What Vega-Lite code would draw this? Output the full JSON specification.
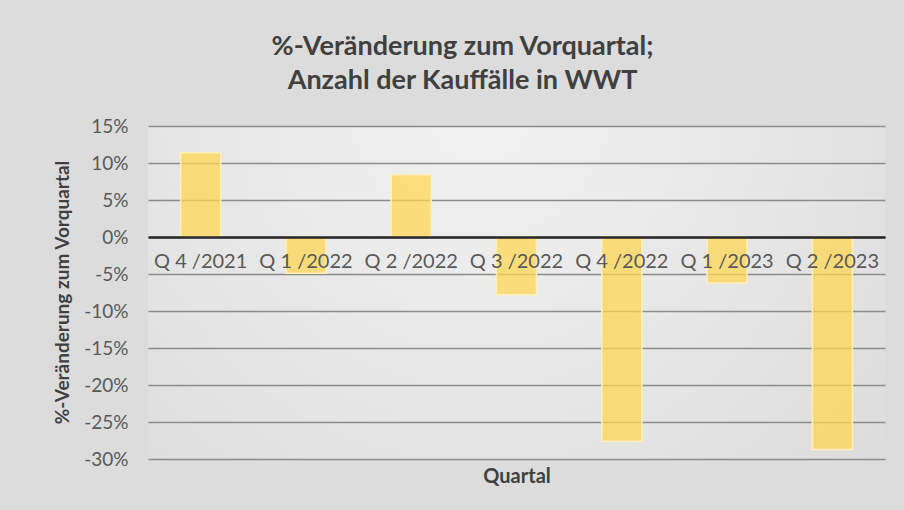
{
  "$schema": "https://vega.github.io/schema/vega-lite/v6.json",
  "width": 737,
  "height": 333,
  "autosize": {"type": "none"},
  "padding": {"left": 148, "top": 126, "right": 19, "bottom": 51},
  "background": "#dcdcdc",
  "title": {
    "text": ["%-Veränderung zum Vorquartal;", "Anzahl der Kauffälle in WWT"],
    "font": "Lato",
    "fontSize": 27,
    "fontWeight": "bold",
    "color": "#404040",
    "lineHeight": 34,
    "anchor": "middle",
    "dx": -54,
    "offset": 22
  },
  "config": {
    "view": {
      "stroke": null,
      "fill": {
        "gradient": "radial",
        "x1": 0.45, "y1": 0.25, "r1": 0,
        "x2": 0.45, "y2": 0.25, "r2": 0.95,
        "stops": [
          {"offset": 0, "color": "#f2f2f2"},
          {"offset": 1, "color": "#d6d6d6"}
        ]
      }
    }
  },
  "data": {
    "values": [
      {"quartal": "Q 4 /2021", "veraenderung": 11.4},
      {"quartal": "Q 1 /2022", "veraenderung": -4.9},
      {"quartal": "Q 2 /2022", "veraenderung": 8.4},
      {"quartal": "Q 3 /2022", "veraenderung": -7.8},
      {"quartal": "Q 4 /2022", "veraenderung": -27.6},
      {"quartal": "Q 1 /2023", "veraenderung": -6.2},
      {"quartal": "Q 2 /2023", "veraenderung": -28.7}
    ]
  },
  "mark": {
    "type": "bar",
    "fill": "#ffd650",
    "fillOpacity": 0.73,
    "stroke": "#fff0b8",
    "strokeWidth": 1.5
  },
  "encoding": {
    "x": {
      "field": "quartal",
      "type": "nominal",
      "sort": null,
      "scale": {"paddingInner": 0.62, "paddingOuter": 0.31},
      "axis": {
        "title": "Quartal",
        "zindex": 1,
        "offset": -222,
        "labelAngle": 0,
        "labelFont": "Lato",
        "labelFontSize": 20,
        "labelColor": "#595959",
        "labelPadding": 14,
        "ticks": false,
        "tickSize": 0,
        "domainColor": "#262626",
        "domainWidth": 2.5,
        "titleFont": "Lato",
        "titleFontSize": 20,
        "titleFontWeight": "bold",
        "titleColor": "#404040",
        "titleBaseline": "middle",
        "titleY": 239
      }
    },
    "y": {
      "field": "veraenderung",
      "type": "quantitative",
      "scale": {"domain": [-30, 15], "nice": false, "zero": false},
      "axis": {
        "title": "%-Veränderung zum Vorquartal",
        "values": [-30, -25, -20, -15, -10, -5, 0, 5, 10, 15],
        "labelExpr": "datum.value + '%'",
        "labelFont": "Lato",
        "labelFontSize": 19,
        "labelColor": "#595959",
        "labelPadding": 20,
        "ticks": false,
        "domain": false,
        "grid": true,
        "gridColor": "#8c8c8c",
        "gridWidth": 1.5,
        "titleFont": "Lato",
        "titleFontSize": 19,
        "titleFontWeight": "bold",
        "titleColor": "#404040",
        "titleAngle": 270,
        "titleBaseline": "middle",
        "titleAlign": "center",
        "titleX": -86,
        "titleY": 166
      }
    }
  }
}
